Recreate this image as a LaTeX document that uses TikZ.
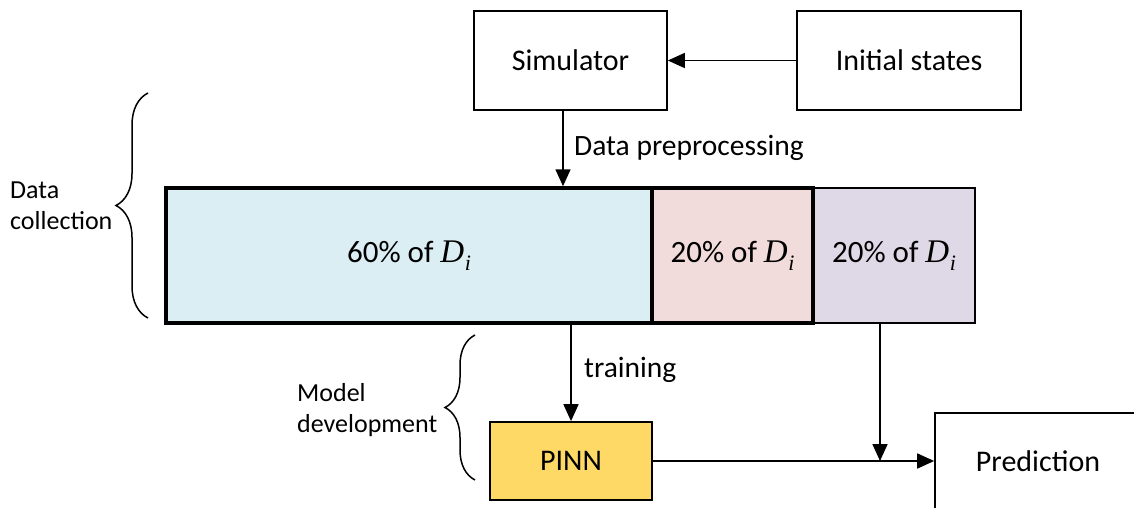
\documentclass[tikz,border=0pt]{standalone}
\usepackage[no-math]{fontspec}
\setmainfont{Carlito}
\newfontfamily\serifit{Liberation Serif}[ItalicFont=* Italic]
\newcommand\myDi{{\serifit\itshape\fontsize{33}{33}\selectfont D\kern0.5pt\raisebox{-0.25em}{\fontsize{22}{22}\selectfont i}}}
\usetikzlibrary{arrows.meta,decorations.pathreplacing}
\definecolor{cblue}{HTML}{DAEEF3}
\definecolor{cpink}{HTML}{F2DCDB}
\definecolor{cpurple}{HTML}{DFD8E7}
\definecolor{cgold}{HTML}{FFD966}
\begin{document}
\begin{tikzpicture}[x=1pt,y=-1pt,
  box/.style={draw, line width=1.7pt, inner sep=0pt, font=\fontsize{30}{32}\selectfont},
  bar/.style={box, font=\fontsize{31}{32}\selectfont},
  arr/.style={line width=1.7pt, -{Triangle[length=17pt,width=15pt]}},
  lbl/.style={inner sep=0pt, font=\fontsize{29.5}{32}\selectfont},
  side/.style={inner sep=0pt, align=left, font=\fontsize{26}{31}\selectfont},
  bracestyle/.style={decorate, decoration={brace, amplitude=#1}, line width=1.5pt}]
\useasboundingbox (0,0) rectangle (1134,508);
\clip (0,0) rectangle (1134,508);
% top boxes
\node[box, minimum width=193pt, minimum height=99pt] (sim) at (570.5,60.5) {Simulator};
\node[box, minimum width=224pt, minimum height=99pt] (init) at (909,60.5) {Initial states};
% data bar
\node[bar, fill=cpurple, minimum width=162pt, minimum height=135pt] (purple) at (894,255.5) {20\% of \myDi};
\node[bar, fill=cpink, line width=3.5pt, minimum width=161pt, minimum height=135pt] (pink) at (732.5,255.5) {20\% of \myDi};
\node[bar, fill=cblue, line width=3.5pt, minimum width=486pt, minimum height=135pt] (blue) at (409,255.5) {60\% of \myDi};
% lower boxes
\node[box, fill=cgold, minimum width=162pt, minimum height=78pt] (pinn) at (571,461) {PINN};
\node[box, minimum width=206pt, minimum height=96pt] (pred) at (1038,461) {Prediction};
% connectors
\coordinate (a1) at (563,0);
\coordinate (j) at (880,461);
\draw[arr] (init.west) -- (sim.east);
\draw[arr] (sim.south -| a1) -- (blue.north -| a1);
\draw[arr] (blue.south -| pinn.north) -- (pinn.north);
\draw[arr] (purple.south -| j) -- (j);
\draw[arr] (pinn.east) -- (pred.west);
% labels
\node[lbl, anchor=west] (lpre) at (574,148) {Data preprocessing};
\node[lbl, anchor=west] (ltrain) at (584,370) {training};
% braces
\coordinate (b1s) at (148,318);
\coordinate (b1e) at (148,93);
\draw[bracestyle=32pt] (b1s) -- (b1e);
\coordinate (b2s) at (475,480);
\coordinate (b2e) at (475,335);
\draw[bracestyle=30pt] (b2s) -- (b2e);
\node[side, anchor=west] (dc) at (10,206) {Data\\collection};
\node[side, anchor=west] (md) at (297,410) {Model\\development};
\end{tikzpicture}
\end{document}
